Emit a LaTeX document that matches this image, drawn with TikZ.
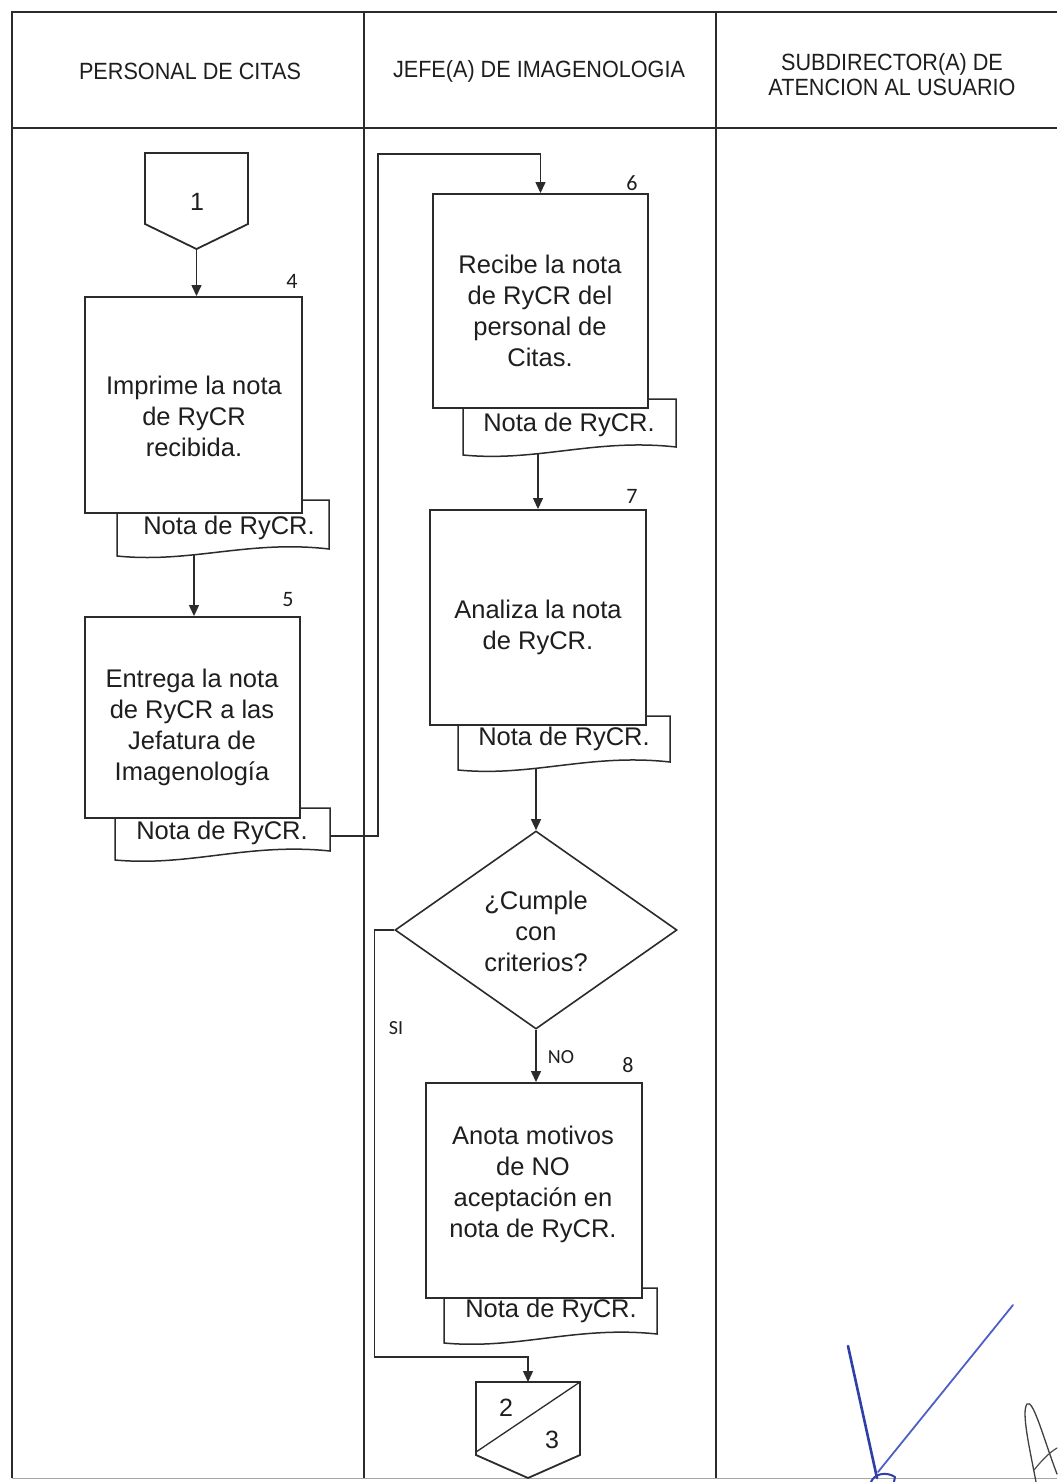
\documentclass[tikz,border=0pt]{standalone}
\usepackage{fontspec}
\setmainfont{Liberation Sans}
\newfontfamily\headfont[FakeStretch=0.92]{Liberation Sans}
\newfontfamily\tagfont{Carlito}
\usetikzlibrary{arrows.meta,shapes.geometric,calc}
\definecolor{ink}{HTML}{1E1E1E}
\definecolor{rule}{HTML}{2B2B2B}
\definecolor{penblue}{HTML}{2F3FA8}
\definecolor{penblueb}{HTML}{4F60C4}

\tikzset{
  frameline/.style={draw=rule, line width=2.3pt},
  thinframe/.style={draw=black!35, line width=1pt},
  flow/.style={draw=rule, line width=1.3pt},
  arr/.style={flow, -{Triangle[length=11pt,width=10pt]}},
  stepbox/.style={rectangle, draw=rule, line width=1.9pt, fill=white, inner sep=0pt},
  docline/.style={draw=rule, line width=1.5pt, fill=white},
  body/.style={text=ink, align=center, inner sep=0pt, font=\fontsize{25.5}{31}\selectfont},
  headtxt/.style={text=ink, align=center, inner sep=0pt, font=\headfont\fontsize{23.5}{25}\selectfont},
  tag/.style={text=ink, inner sep=0pt, font=\tagfont\fontsize{22}{24}\selectfont},
  branch/.style={text=ink, inner sep=0pt, font=\tagfont\fontsize{20}{22}\selectfont},
  conntxt/.style={text=ink, inner sep=0pt, font=\fontsize{25}{27}\selectfont},
  decision/.style={diamond, draw=rule, line width=1.6pt, fill=white, inner sep=0pt},
  connline/.style={draw=rule, line width=1.8pt, fill=white, line join=miter},
  pen/.style={draw=penblue, line cap=round, line join=round},
}

% document symbol: straight sides and a wavy bottom edge
% #1 prefix, #2 left x, #3 right x, #4 top y, #5 bottom-left y, #6 bottom-right y
\newcommand\notadoc[6]{%
  \coordinate (#1nw) at (#2,#4);
  \coordinate (#1sw) at (#2,#5);
  \coordinate (#1se) at (#3,#6);
  \coordinate (#1ne) at (#3,#4);
  \draw[docline] (#1nw) -- (#1sw)
    .. controls ($(#1sw)!0.35!(#1se)+(0,10)$) and ($(#1sw)!0.62!(#1se)+(0,-12)$) .. (#1se)
    -- (#1ne) -- cycle;
}

\begin{document}
\begin{tikzpicture}[x=1pt,y=-1pt]
\useasboundingbox (0,0) rectangle (1057,1482);
\fill[white] (0,0) rectangle (1057,1482);

% ---- swimlane frame ----
\draw[frameline] (1057,12) -- (12,12) -- (12,1478);
\draw[frameline] (12,128) -- (1057,128);
\draw[frameline] (364,12) -- (364,1478);
\draw[frameline] (716,12) -- (716,1478);
\draw[thinframe] (12,1478) -- (1057,1478);

\node[headtxt] (h1) at (190,71) {PERSONAL DE CITAS};
\node[headtxt] (h2) at (539,71) {JEFE(A) DE IMAGENOLOGIA};
\node[headtxt] (h3) at (892,75) {SUBDIRECTOR(A) DE\\ATENCION AL USUARIO};

% ---- documents (drawn first, the step boxes overlap their tops) ----
\notadoc{d4}{117}{329}{500}{556}{549}
\notadoc{d5}{115}{330}{808}{860}{851}
\notadoc{d6}{463}{676}{399}{455}{447}
\notadoc{d7}{458}{670}{716}{770}{762}
\notadoc{d8}{444}{657}{1288}{1343}{1334}

\node[body] (n4) at (229,528) {Nota de RyCR.};
\node[body] (n5) at (222,833) {Nota de RyCR.};
\node[body] (n6) at (569,425) {Nota de RyCR.};
\node[body] (n7) at (564,739) {Nota de RyCR.};
\node[body] (n8) at (551,1311) {Nota de RyCR.};

% ---- step boxes ----
\node[stepbox, minimum width=217pt, minimum height=216pt] (b4) at (193.5,405) {};
\node[stepbox, minimum width=215pt, minimum height=201pt] (b5) at (192.5,717.5) {};
\node[stepbox, minimum width=215pt, minimum height=214pt] (b6) at (540.5,301) {};
\node[stepbox, minimum width=216pt, minimum height=215pt] (b7) at (538,617.5) {};
\node[stepbox, minimum width=216pt, minimum height=215pt] (b8) at (534,1190.5) {};

\node[body] (t4) at (194,416) {Imprime la nota\\de RyCR\\recibida.};
\node[body] (t5) at (192,727) {Entrega la nota\\de RyCR a las\\Jefatura de\\Imagenología};
\node[body] (t6) at (540,311) {Recibe la nota\\de RyCR del\\personal de\\Citas.};
\node[body] (t7) at (538,627) {Analiza la nota\\de RyCR.};
\node[body] (t8) at (533,1184) {Anota motivos\\de NO\\aceptación en\\nota de RyCR.};

\node[tag] (s4) at (292,281) {4};
\node[tag] (s5) at (288,600) {5};
\node[tag] (s6) at (632,183) {6};
\node[tag] (s7) at (632,496) {7};
\node[tag] (s8) at (628,1065) {8};

% ---- decision ----
\node[decision, minimum width=282pt, minimum height=198pt] (dec) at (536,930) {};
\node[body] (tdec) at (536,931) {¿Cumple\\con\\criterios?};
\node[branch] (lsi) at (396,1028) {SI};
\node[branch] (lno) at (561,1057) {NO};

% ---- off-page connectors ----
\coordinate (c1tip) at (196.5,249);
\draw[connline] (145,153) -- (248,153) -- (248,224) -- (c1tip) -- (145,224) -- cycle;
\node[conntxt] (c1) at (197,202) {1};

\coordinate (c23top) at (528,1382);
\draw[connline] (476,1382) -- (580,1382) -- (580,1455) -- (528,1478) -- (476,1455) -- cycle;
\draw[flow] (580,1382) -- (476,1452);
\node[conntxt] (c2) at (506,1408) {2};
\node[conntxt] (c3) at (552,1440) {3};

% ---- flow lines ----
\coordinate (d4out) at (194,555);
\coordinate (d5r) at (330,836);
\coordinate (d6out) at (538,454);
\coordinate (d7out) at (536,769);

\draw[arr] (c1tip) -- (c1tip |- b4.north);
\draw[arr] (d4out) -- (d4out |- b5.north);
\draw[arr] (d5r) -- ++(48,0) |- ($(b6.north)+(0,-39)$) -- (b6.north);
\draw[arr] (d6out) -- (d6out |- b7.north);
\draw[arr] (d7out) -- (d7out |- dec.north);
\draw[arr] (dec.south) -- (dec.south |- b8.north);
\draw[arr] (dec.west) -- ++(-20,0) |- ($(c23top)+(0,-25)$) -- (c23top);

% ---- pen marks in the lower right corner ----
\draw[pen, line width=2.6pt] (848,1346) -- (877,1478);
\draw[pen, draw=penblueb, line width=1.8pt] (1013,1305) -- (878,1472);
\draw[pen, line width=2pt] (871,1482) .. controls (874,1474) and (886,1471) .. (895,1477) -- (894,1482);
\draw[black!75, line width=1.3pt, line cap=round] (1036,1482) .. controls (1030,1450) and (1021,1412) .. (1027,1404)
  .. controls (1033,1398) and (1044,1440) .. (1057,1474);
\draw[black!70, line width=1.2pt, line cap=round] (1034,1470) .. controls (1042,1460) and (1050,1452) .. (1057,1448);
\end{tikzpicture}
\end{document}
